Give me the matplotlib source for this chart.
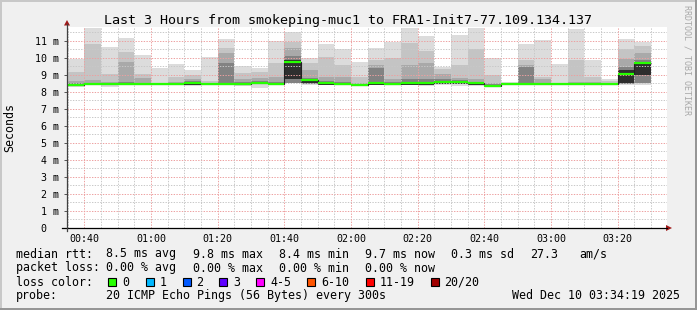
import matplotlib
matplotlib.use("Agg")
import matplotlib.pyplot as plt
import matplotlib.dates as mdates
import numpy as np
import pandas as pd
from matplotlib.lines import Line2D
from matplotlib.patches import Rectangle, Polygon

# ---- data (ms), one entry per 5 min step, 00:35 .. 03:25 ----
bar_start = pd.date_range("2025-12-10 00:35", periods=35, freq="5min")

rtt_median = [8.41, 8.47, 8.47, 8.47, 8.45, 8.45, 8.45, 8.51, 8.45, 8.47,
              8.45, 8.51, 8.47, 9.78, 8.70, 8.51, 8.47, 8.41, 8.51, 8.47,
              8.51, 8.55, 8.60, 8.60, 8.51, 8.37, 8.47, 8.45, 8.45, 8.45,
              8.45, 8.45, 8.49, 9.04, 9.72]
rtt_min = [8.31, 8.40, 8.29, 8.40, 8.40, 8.42, 8.40, 8.38, 8.40, 8.40,
           8.38, 8.22, 8.40, 8.50, 8.40, 8.40, 8.40, 8.36, 8.40, 8.40,
           8.40, 8.37, 8.40, 8.35, 8.37, 8.35, 8.42, 8.40, 8.40, 8.40,
           8.40, 8.40, 8.42, 8.41, 8.41]
rtt_max = [9.96, 11.78, 10.65, 11.19, 10.18, 9.42, 9.65, 9.29, 10.06, 11.12,
           9.53, 9.43, 11.00, 11.51, 10.02, 10.82, 10.51, 9.75, 10.61, 10.96,
           11.78, 11.29, 9.49, 11.35, 11.78, 9.98, 8.60, 10.82, 11.06, 9.65,
           11.71, 9.88, 8.76, 11.12, 10.96]
smoke_hi2 = [9.20, 10.84, 9.08, 10.35, 9.04, 8.55, 8.86, 9.00, 8.62, 10.57,
             9.10, 9.20, 9.69, 10.95, 9.72, 10.04, 9.60, 8.90, 9.88, 10.02,
             10.90, 10.43, 9.33, 9.59, 10.51, 9.00, 8.55, 9.88, 8.90, 8.55,
             9.88, 8.90, 8.62, 10.51, 10.70]
smoke_hi3 = [8.62, 8.72, 8.60, 9.78, 8.80, 8.52, 8.60, 8.75, 8.55, 10.27,
             8.78, 8.80, 8.90, 10.60, 9.29, 8.90, 8.90, 8.55, 9.60, 8.75,
             9.59, 9.72, 9.06, 8.80, 8.75, 8.50, 8.50, 9.60, 8.75, 8.50,
             8.60, 8.60, 8.55, 9.92, 10.27]
smoke_hi4 = [8.50, 8.55, 8.52, 8.60, 8.55, 8.50, 8.52, 8.62, 8.52, 9.72,
             8.58, 8.62, 8.60, 10.10, 8.85, 8.62, 8.60, 8.48, 9.39, 8.58,
             8.75, 8.75, 8.75, 8.68, 8.60, 8.45, 8.48, 9.49, 8.55, 8.48,
             8.52, 8.52, 8.52, 9.45, 9.90]
smoke_lo = [8.38, 8.42, 8.42, 8.42, 8.42, 8.43, 8.42, 8.42, 8.42, 8.42,
            8.42, 8.45, 8.42, 8.55, 8.45, 8.44, 8.42, 8.38, 8.42, 8.42,
            8.42, 8.40, 8.48, 8.48, 8.40, 8.36, 8.44, 8.42, 8.42, 8.42,
            8.42, 8.42, 8.44, 8.45, 8.50]
core_lo = [8.38, 8.42, 8.42, 8.42, 8.42, 8.43, 8.42, 8.42, 8.42, 8.42,
           8.42, 8.45, 8.42, 8.75, 8.55, 8.44, 8.42, 8.38, 8.42, 8.42,
           8.42, 8.40, 8.48, 8.48, 8.40, 8.36, 8.44, 8.42, 8.42, 8.42,
           8.42, 8.42, 8.44, 8.51, 9.00]
core_hi = [8.45, 8.50, 8.50, 8.50, 8.50, 8.49, 8.50, 8.55, 8.50, 8.55,
           8.50, 8.55, 8.52, 9.90, 8.72, 8.53, 8.50, 8.44, 8.55, 8.50,
           8.55, 8.58, 8.62, 8.62, 8.55, 8.42, 8.49, 8.50, 8.50, 8.48,
           8.50, 8.50, 8.52, 9.29, 9.72]

y_ticks = list(range(12))
y_ticklabels = ["0  "] + ["%d m" % i for i in range(1, 12)]

title = "Last 3 Hours from smokeping-muc1 to FRA1-Init7-77.109.134.137"
legend_rtt = [("median rtt:", 16), ("8.5 ms avg", 106), ("9.8 ms max", 193),
              ("8.4 ms min", 279), ("9.7 ms now", 365), ("0.3 ms sd", 451),
              ("27.3", 530), ("am/s", 579)]
legend_loss = [("packet loss:", 16), ("0.00 % avg", 106), ("0.00 % max", 193),
               ("0.00 % min", 279), ("0.00 % now", 365)]
loss_labels = ["0", "1", "2", "3", "4-5", "6-10", "11-19", "20/20"]
loss_colors = ["#26ff00", "#00b8ff", "#0059ff", "#5e00ff", "#ff00ff",
               "#ff5500", "#ff0000", "#a10000"]
loss_box_x = [108, 145.5, 182.5, 219, 256, 307, 365.5, 430.5]
probe_text = "20 ICMP Echo Pings (56 Bytes) every 300s"
stamp = "Wed Dec 10 03:34:19 2025"

W, H = 697, 310
MONO = "DejaVu Sans Mono"


def fx(x):
    return x / W


def fy(y):
    return 1 - y / H


fig = plt.figure(figsize=(W / 100, H / 100), dpi=100, facecolor="#f0f0f0")

# 3d-ish frame
fig.add_artist(Rectangle((0, fy(2)), 1, 2 / H, transform=fig.transFigure,
                         facecolor="#c8c8c8", edgecolor="none"))
fig.add_artist(Rectangle((0, 0), 2 / W, 1, transform=fig.transFigure,
                         facecolor="#c8c8c8", edgecolor="none"))
fig.add_artist(Rectangle((0, 0), 1, 2 / H, transform=fig.transFigure,
                         facecolor="#969696", edgecolor="none"))
fig.add_artist(Rectangle((1 - 2 / W, 0), 2 / W, 1, transform=fig.transFigure,
                         facecolor="#969696", edgecolor="none"))

ax_left, ax_right, ax_top, ax_bot = 67, 667, 26.7, 228
ax = fig.add_axes([fx(ax_left), fy(ax_bot), (ax_right - ax_left) / W,
                   (ax_bot - ax_top) / H])
ax.set_facecolor("white")

x0 = mdates.date2num(bar_start.to_pydatetime())
step = 5 / 1440.0
t_start = mdates.date2num(pd.Timestamp("2025-12-10 00:34:50").to_pydatetime())
t_end = t_start + 3 / 24.0

rmin = np.array(rtt_min)
med = np.array(rtt_median)
slo = np.array(smoke_lo)

# smoke bands, outer light -> inner dark
ax.bar(x0, np.array(rtt_max) - rmin, bottom=rmin, width=step, align="edge",
       color="#dcdcdc", linewidth=0, zorder=1)
ax.bar(x0, np.array(smoke_hi2) - slo, bottom=slo, width=step, align="edge",
       color="#c4c4c4", linewidth=0, zorder=1.1)
ax.bar(x0, np.array(smoke_hi3) - slo, bottom=slo, width=step, align="edge",
       color="#a9a9a9", linewidth=0, zorder=1.2)
ax.bar(x0, np.array(smoke_hi4) - slo, bottom=slo, width=step, align="edge",
       color="#828282", linewidth=0, zorder=1.3)
ax.bar(x0, np.array(core_hi) - np.array(core_lo), bottom=core_lo, width=step,
       align="edge", color="#2e2e2e", linewidth=0, zorder=1.4)

# grid (drawn over the smoke, like rrdtool)
for v in np.arange(0.5, 12, 1.0):
    ax.axhline(v, color="#c8c8c8", lw=0.7, ls=(0, (1.4, 1.4)), zorder=2)
for v in range(1, 12):
    ax.axhline(v, color="#eda0a0", lw=0.7, ls=(0, (1.4, 1.4)), zorder=2.1)
mins = pd.date_range("2025-12-10 00:35", "2025-12-10 03:30", freq="5min")
for t in mins:
    col = "#eda0a0" if t.minute % 20 == 0 else "#c8c8c8"
    ax.axvline(mdates.date2num(t.to_pydatetime()), color=col, lw=0.7,
               ls=(0, (1.4, 1.4)), zorder=2.1)

# median: dark step line plus green (0% loss) segments
edges = np.append(x0, x0[-1] + step)
ax.stairs(med, edges, baseline=None, color="#202020", lw=0.8, zorder=3)
ax.hlines(med, x0, x0 + step, color=loss_colors[0], lw=1.6, zorder=4)

ax.set_xlim(t_start, t_end)
ax.set_ylim(0, 11.84)
ax.set_yticks(y_ticks)
ax.set_yticklabels(y_ticklabels, family=MONO, fontsize=7.2)
ax.xaxis.set_major_locator(mdates.MinuteLocator(byminute=[0, 20, 40]))
ax.xaxis.set_major_formatter(mdates.DateFormatter("%H:%M"))
for lab in ax.get_xticklabels():
    lab.set_family(MONO)
    lab.set_fontsize(7.2)
ax.tick_params(axis="y", length=2, width=0.7, color="#555555", pad=3.5)
ax.tick_params(axis="x", length=0, pad=4.5)
for s in ax.spines.values():
    s.set_visible(False)

# axes with arrows
fig.add_artist(Line2D([fx(62), fx(667)], [fy(228), fy(228)], color="#000000",
                      lw=0.9, transform=fig.transFigure))
fig.add_artist(Line2D([fx(67), fx(67)], [fy(231), fy(24)], color="#404040",
                      lw=0.9, transform=fig.transFigure))
fig.add_artist(Polygon([[fx(666), fy(225)], [fx(666), fy(231)], [fx(672), fy(228)]],
                       closed=True, transform=fig.transFigure,
                       facecolor="#a01818", edgecolor="none"))
fig.add_artist(Polygon([[fx(64), fy(25.5)], [fx(70), fy(25.5)], [fx(67), fy(20)]],
                       closed=True, transform=fig.transFigure,
                       facecolor="#a01818", edgecolor="none"))

# texts
fig.text(fx(348), fy(24), title, ha="center", va="baseline", family=MONO,
         fontsize=9.6)
fig.text(fx(10), fy(127), "Seconds", rotation=90, ha="center", va="center",
         family=MONO, fontsize=8.4)
fig.text(fx(687), fy(5), "RRDTOOL / TOBI OETIKER", rotation=270, ha="center",
         va="top", family=MONO, fontsize=6, color="#a8a8a8")

for s, x in legend_rtt:
    fig.text(fx(x), fy(257.5), s, ha="left", va="baseline", family=MONO,
             fontsize=8.4)
for s, x in legend_loss:
    fig.text(fx(x), fy(271.5), s, ha="left", va="baseline", family=MONO,
             fontsize=8.4)
fig.text(fx(16), fy(285.5), "loss color:", ha="left", va="baseline",
         family=MONO, fontsize=8.4)
for lab, col, bx in zip(loss_labels, loss_colors, loss_box_x):
    fig.add_artist(Rectangle((fx(bx), fy(286)), 8 / W, 8 / H,
                             transform=fig.transFigure, facecolor=col,
                             edgecolor="black", lw=0.8))
    fig.text(fx(bx + 14), fy(285.5), lab, ha="left", va="baseline",
             family=MONO, fontsize=8.4)
fig.text(fx(16), fy(299), "probe:", ha="left", va="baseline", family=MONO,
         fontsize=8.4)
fig.text(fx(106), fy(299), probe_text, ha="left", va="baseline", family=MONO,
         fontsize=8.4)
fig.text(fx(512), fy(299), stamp, ha="left", va="baseline", family=MONO,
         fontsize=8.4)

fig.savefig("out.png", dpi=100, facecolor=fig.get_facecolor())
